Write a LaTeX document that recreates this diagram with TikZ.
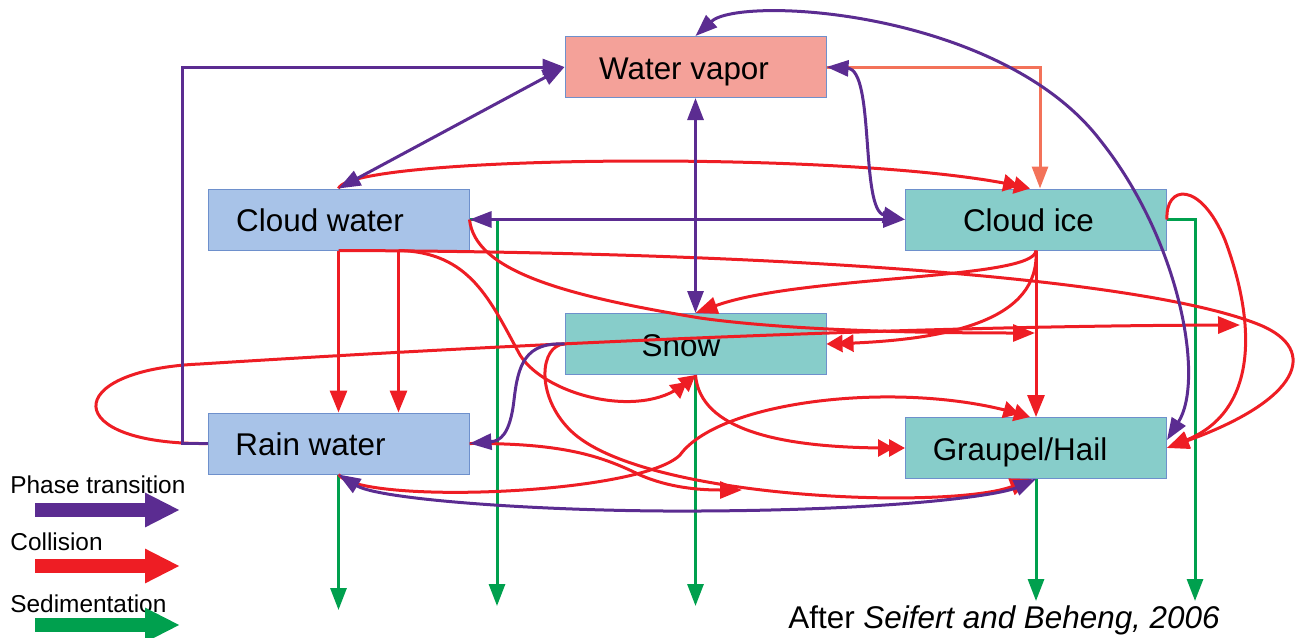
\documentclass[tikz,border=0pt]{standalone}
\usepackage{fontspec}
\setmainfont{Liberation Sans}
\usetikzlibrary{arrows.meta,positioning,calc}

\definecolor{phasecol}{HTML}{5B2C91}
\definecolor{collcol}{HTML}{EE1D24}
\definecolor{sedcol}{HTML}{00A04E}
\definecolor{depcol}{HTML}{F37259}
\definecolor{vaporfill}{HTML}{F4A199}
\definecolor{waterfill}{HTML}{A8C3E8}
\definecolor{icefill}{HTML}{87CDCA}
\definecolor{boxedge}{HTML}{6E90CC}

\begin{document}
\begin{tikzpicture}[x=0.5pt,y=-0.5pt,on grid,
  box/.style={draw=boxedge,line width=0.5pt,minimum width=130.5pt,minimum height=30.5pt,inner sep=0pt},
  boxtext/.style={anchor=base,font=\fontsize{15.7}{18}\selectfont,inner sep=0pt},
  legtext/.style={anchor=base west,font=\fontsize{12.2}{14}\selectfont,inner sep=0pt},
  phase/.style={draw=phasecol,line width=1.5pt,>={Triangle[length=11pt,width=8pt]}},
  coll/.style={draw=collcol,line width=1.5pt,>={Triangle[length=11pt,width=8.5pt]}},
  colltwo/.style={coll,arrows={-{Triangle[length=8pt,width=8.5pt,sep=-2.5pt]Triangle[length=8pt,width=8.5pt]}}},
  sedi/.style={draw=sedcol,line width=1.5pt,>={Triangle[length=11pt,width=8pt]}},
  depo/.style={draw=depcol,line width=1.5pt,>={Triangle[length=11pt,width=8pt]}},
  legarrow/.style={line width=7pt,arrows={-{Triangle[length=17.5pt,width=16pt]}}},
]
	\useasboundingbox (0,0) rectangle (1300,637);

	% hydrometeor classes
	\node[box, fill=vaporfill] (wv) at (695.5,67) {};
	\node[box, fill=waterfill] (cw) at (338.5,219.5) {};
	\node[box, fill=icefill, right=348.75pt of cw] (ci) {};
	\node[box, fill=icefill, below=138.5pt of wv] (snow) {};
	\node[box, fill=waterfill, below=112pt of cw] (rw) {};
	\node[box, fill=icefill, below=114.25pt of ci] (gh) {};
	\node[boxtext] (wvtext) at ([xshift=-5.75pt,yshift=-6pt]wv.center) {Water vapor};
	\node[boxtext] (cwtext) at ([xshift=-9.25pt,yshift=-6pt]cw.center) {Cloud water};
	\node[boxtext] (citext) at ([xshift=-3.75pt,yshift=-6pt]ci.center) {Cloud ice};
	\node[boxtext] (snowtext) at ([xshift=-7.25pt,yshift=-6pt]snow.center) {Snow};
	\node[boxtext] (rwtext) at ([xshift=-14pt,yshift=-6pt]rw.center) {Rain water};
	\node[boxtext] (ghtext) at ([xshift=-8pt,yshift=-6pt]gh.center) {Graupel/Hail};

	% free ends
	\coordinate (dtip) at (1035,333);
	\coordinate (etip) at (1240,325);
	\coordinate (mtip) at (742,490);
	\coordinate (rwsed) at (338.5,610);
	\coordinate (cwsed) at (497,606);
	\coordinate (snsed) at (695.5,606);
	\coordinate (ghsed) at (1036,601);
	\coordinate (cised) at (1195,601);

	% sedimentation
	\draw[sedi,->] (rw.south) -- (rwsed);
	\draw[sedi,->] (cw.east) -| (cwsed);
	\draw[sedi,->] (snow.south) -- (snsed);
	\draw[sedi,->] (gh.south) -- (ghsed);
	\draw[sedi,->] (ci.east) -| (cised);

	% deposition
	\draw[depo,->] (wv.east) -| ([xshift=2pt]ci.north);

	% collisions
	\draw[colltwo] (cw.north) .. controls (350,155) and (850,150) .. ([xshift=-3pt]ci.north);
	\draw[coll,->] (cw.south) -- (rw.north);
	\draw[coll,->] ([xshift=30pt]cw.south) -- ([xshift=30pt]rw.north);
	\draw[coll,->] (cw.south) .. controls (800,252) and (1150,280) .. (1260,325) .. controls (1320,350) and (1300,400) .. (gh.east);
	\draw[colltwo] ([xshift=30pt]cw.south) .. controls (470,252) and (490,300) .. (520,355) .. controls (545,395) and (640,420) .. (snow.south);
	\draw[coll,->] (cw.east) .. controls (475,270) and (560,295) .. (700,318) .. controls (800,332) and (950,333) .. (dtip);
	\draw[coll,->] (rw.west) .. controls (60,445) and (60,370) .. (200,364) .. controls (500,345) and (900,326) .. (etip);
	\draw[coll,->] (ci.south) .. controls (1035,280) and (800,275) .. (snow.north);
	\draw[colltwo] (ci.south) .. controls (1040,320) and (950,340) .. (snow.east);
	\draw[coll,->] (ci.south) -- (gh.north);
	\draw[coll,->] (ci.east) .. controls (1165,185) and (1200,180) .. (1225,240) .. controls (1255,320) and (1260,410) .. (gh.east);
	\draw[colltwo] (snow.south) .. controls (700,430) and (780,448) .. (gh.west);
	\draw[coll,->] (snow.west) .. controls (540,345) and (535,395) .. (570,430) .. controls (640,500) and (950,510) .. ([xshift=-2pt]gh.south);
	\draw[colltwo] (rw.south) .. controls (360,505) and (640,495) .. (680,455) .. controls (720,400) and (900,380) .. ([xshift=-3pt]gh.north);
	\draw[coll,->] (rw.east) .. controls (560,443) and (600,455) .. (640,475) .. controls (670,488) and (700,490) .. (mtip);

	% phase transitions
	\draw[phase,->] (rw.west) -- ++(-25,0) |- (wv.west);
	\draw[phase,<->] (cw.north) -- (wv.west);
	\draw[phase,<->] (wv.south) -- (snow.north);
	\draw[phase,<->] (cw.east) -- (ci.west);
	\draw[phase,<->] (wv.east) .. controls (875,70) and (860,210) .. (ci.west);
	\draw[phase,<->] (wv.north) .. controls (740,-5) and (1000,10) .. (1100,140) .. controls (1180,240) and (1205,380) .. ([yshift=4pt]gh.east);
	\draw[phase,->] (snow.west) .. controls (525,342) and (518,365) .. (514,400) .. controls (510,435) and (500,441) .. (rw.east);
	\draw[phase,<->] (rw.south) .. controls (380,500) and (550,512) .. (700,511) .. controls (900,510) and (1000,495) .. (gh.south);

	% legend
	\node[legtext] (phaselbl) at (10,493) {Phase transition};
	\node[legtext] (colllbl) at (10,550) {Collision};
	\node[legtext] (sedlbl) at (10,612) {Sedimentation};
	\coordinate (pha) at (35,510); \coordinate (phb) at (180,510);
	\coordinate (coa) at (35,566); \coordinate (cob) at (180,566);
	\coordinate (sea) at (35,625); \coordinate (seb) at (180,625);
	\draw[legarrow,phasecol] (pha) -- (phb);
	\draw[legarrow,collcol] (coa) -- (cob);
	\draw[legarrow,sedcol] (sea) -- (seb);

	\node[anchor=base west,font=\fontsize{15.7}{18}\selectfont,inner sep=0pt] (source) at (788,628) {After \textit{Seifert and Beheng, 2006}};
\end{tikzpicture}
\end{document}
